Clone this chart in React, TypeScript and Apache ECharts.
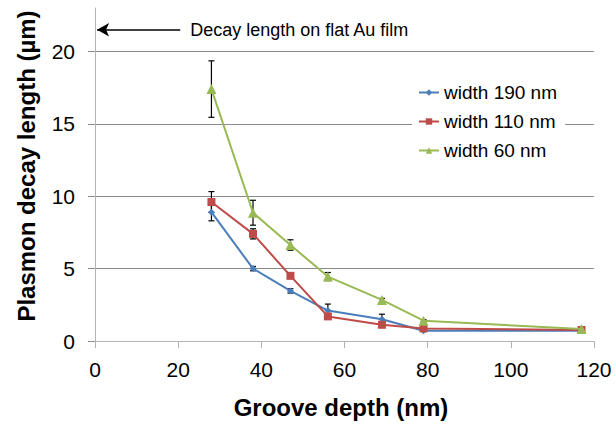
import React, { useEffect, useRef } from "react";
import * as echarts from "echarts";

const grooveDepth = [28, 38, 47, 56, 69, 79, 117];
const width190 = [8.9, 5.0, 3.46, 2.1, 1.5, 0.71, 0.7];
const width110 = [9.6, 7.4, 4.5, 1.7, 1.12, 0.87, 0.76];
const width60 = [17.4, 8.86, 6.63, 4.45, 2.84, 1.4, 0.83];
const err190 = [0.6, 0.15, 0.15, 0.45, 0.35, 0.05, 0.05];
const err110 = [0.72, 0.35, 0.12, 0.12, 0.1, 0.05, 0.05];
const err60 = [1.95, 0.86, 0.36, 0.28, 0.1, 0.08, 0.05];
const seriesNames = ["width 190 nm", "width 110 nm", "width 60 nm"];
const yTicks = [0, 5, 10, 15, 20];
const flatFilmDecay = 21.5;
const annotationText = "Decay length on flat Au film";

const FONT = "'Liberation Sans', Arial, sans-serif";
const colors = ["#4a7ebb", "#be4b48", "#98b954"];

export default function App() {
  const ref = useRef<HTMLDivElement>(null);
  useEffect(() => {
    const chart = echarts.init(ref.current!, null, { renderer: "svg" });
    const ys = [width190, width110, width60];
    const errs = [err190, err110, err60];
    const errData: number[][] = [];
    ys.forEach((arr, s) =>
      arr.forEach((v, i) => errData.push([grooveDepth[i], v, errs[s][i]]))
    );
    const symbols = ["diamond", "rect", "triangle"];
    const sizes = [7, 8, 10];
    const lineSeries = ys.map((arr, s) => ({
      type: "line",
      name: seriesNames[s],
      data: arr.map((v, i) => [grooveDepth[i], v]),
      symbol: symbols[s],
      symbolSize: sizes[s],
      showAllSymbol: true,
      lineStyle: { color: colors[s], width: 2 },
      itemStyle: { color: colors[s] },
      z: 3 + s,
      ...(s === 0
        ? {
            markLine: {
              silent: true,
              symbol: ["none", "arrow"],
              symbolSize: [10, 12],
              lineStyle: { color: "#000", width: 1.5, type: "solid" },
              label: {
                show: true,
                position: "start",
                distance: 10,
                formatter: annotationText,
                color: "#000",
                fontSize: 18,
                fontFamily: FONT,
              },
              data: [
                [
                  { coord: [20.5, flatFilmDecay], symbol: "none" },
                  { coord: [0.5, flatFilmDecay], symbol: "arrow" },
                ],
              ],
            },
          }
        : {}),
    }));
    chart.setOption({
      animation: false,
      grid: { left: 95, right: 22, top: 8, bottom: 90 },
      xAxis: {
        type: "value",
        min: 0,
        max: 120,
        interval: 20,
        axisLine: { lineStyle: { color: "#b3b3b3", width: 1 } },
        axisTick: { show: true, length: 7, lineStyle: { color: "#b3b3b3" } },
        splitLine: { show: false },
        axisLabel: { color: "#000", fontSize: 21, fontFamily: FONT, margin: 18 },
      },
      yAxis: {
        type: "value",
        min: 0,
        max: 23,
        interval: 5,
        axisLine: { show: true, lineStyle: { color: "#b3b3b3", width: 1 } },
        axisTick: {
          show: true,
          length: 7,
          customValues: yTicks,
          lineStyle: { color: "#8a8a8a" },
        },
        splitLine: { show: true, lineStyle: { color: "#8a8a8a", width: 1 } },
        axisLabel: {
          color: "#000",
          fontSize: 21,
          fontFamily: FONT,
          margin: 20,
          customValues: yTicks,
        },
      },
      legend: {
        orient: "vertical",
        left: 412,
        top: 79,
        padding: [4, 8, 4, 6],
        backgroundColor: "#fff",
        itemWidth: 20,
        itemHeight: 8,
        itemGap: 10,
        data: seriesNames,
        textStyle: { color: "#000", fontSize: 19, fontFamily: FONT },
      },
      graphic: [
        {
          type: "text",
          x: 26,
          y: 166,
          rotation: Math.PI / 2,
          style: {
            text: "Plasmon decay length (µm)",
            fill: "#000",
            font: `bold 24px ${FONT}`,
            textAlign: "center",
            textVerticalAlign: "middle",
          },
        },
        {
          type: "text",
          x: 341,
          y: 407,
          style: {
            text: "Groove depth (nm)",
            fill: "#000",
            font: `bold 24px ${FONT}`,
            textAlign: "center",
            textVerticalAlign: "middle",
          },
        },
      ],
      series: [
        {
          type: "custom",
          name: "errors",
          data: errData,
          z: 2,
          silent: true,
          renderItem: (params: any, api: any) => {
            const x = api.value(0);
            const y = api.value(1);
            const e = api.value(2);
            const top = api.coord([x, y + e]);
            const bot = api.coord([x, y - e]);
            const st = { stroke: "#000", lineWidth: 1.2 };
            return {
              type: "group",
              children: [
                { type: "line", shape: { x1: top[0], y1: top[1], x2: bot[0], y2: bot[1] }, style: st },
                { type: "line", shape: { x1: top[0] - 3, y1: top[1], x2: top[0] + 3, y2: top[1] }, style: st },
                { type: "line", shape: { x1: bot[0] - 3, y1: bot[1], x2: bot[0] + 3, y2: bot[1] }, style: st },
              ],
            };
          },
        },
        ...lineSeries,
      ],
    });
    return () => chart.dispose();
  }, []);
  return <div ref={ref} style={{ width: 616, height: 431, position: "absolute", left: 0, top: 0 }} />;
}
